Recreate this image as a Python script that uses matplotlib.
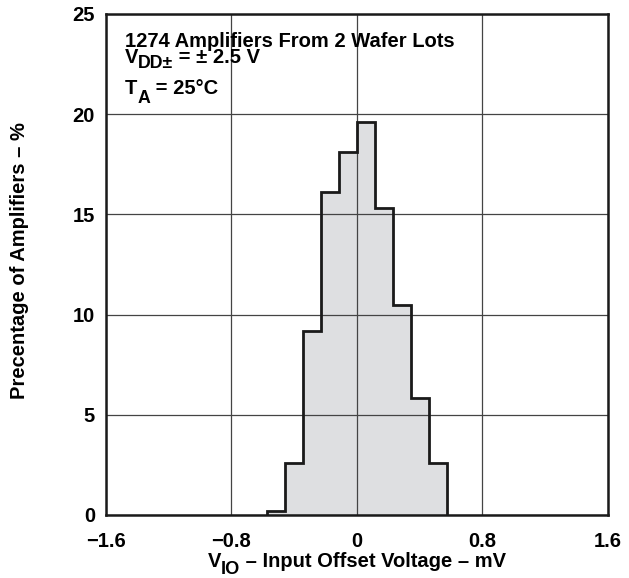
import matplotlib
matplotlib.use("Agg")
import matplotlib.pyplot as plt
from matplotlib.transforms import offset_copy
import numpy as np

plt.rcParams['font.family'] = ['Liberation Sans', 'DejaVu Sans']
plt.rcParams['font.weight'] = 'bold'

# histogram (bin edges in mV, heights in %)
bin_edges = [-0.575, -0.46, -0.345, -0.23, -0.115, 0.0, 0.115, 0.23, 0.345, 0.46, 0.575]
pct = [0.2, 2.6, 9.2, 16.1, 18.1, 19.6, 15.3, 10.5, 5.85, 2.6]

xticks = [-1.6, -0.8, 0, 0.8, 1.6]
xticklabels = ['\u22121.6', '\u22120.8', '0', '0.8', '1.6']
yticks = [0, 5, 10, 15, 20, 25]

FS = 14.5

fig = plt.figure(figsize=(6.29, 5.78), dpi=100)
ax = fig.add_axes([0.1685, 0.109, 0.798, 0.8668])

ax.stairs(pct, bin_edges, fill=True, color='#dedfe1', lw=0, zorder=1)
ax.stairs(pct, bin_edges, baseline=0, color='#1a1a1a', lw=2.0, zorder=3)

ax.set_xlim(-1.6, 1.6)
ax.set_ylim(0, 25)
ax.set_xticks(xticks)
ax.set_xticklabels(xticklabels)
ax.set_yticks(yticks)
ax.tick_params(length=0, labelsize=FS)
ax.tick_params(axis='x', pad=12)
ax.tick_params(axis='y', pad=8)
ax.grid(True, color='#444444', lw=0.9)
ax.set_axisbelow(False)
for sp in ax.spines.values():
    sp.set_linewidth(1.8)
    sp.set_color('#1a1a1a')
    sp.set_zorder(4)

fig.text(20 / 629, 1 - 261 / 578, 'Precentage of Amplifiers \u2013 %', rotation=90,
         ha='center', va='center', fontsize=FS, fontweight='bold')


def chain(pieces, x, y, trans, center=False):
    # pieces: (text, size, dy in px); laid out left to right on one baseline
    rend = fig.canvas.get_renderer()
    arts = []
    for s, size, dy in pieces:
        t = fig.text(0, 0, s, fontsize=size, fontweight='bold', va='baseline',
                     ha='left', transform=trans)
        arts.append((t, dy))
    widths = [t.get_window_extent(rend).width for t, _ in arts]
    x0 = -sum(widths) / 2 if center else 0
    for (t, dy), w in zip(arts, widths):
        t.set_position((x, y))
        t.set_transform(offset_copy(trans, fig=fig, x=x0, y=-dy, units='dots'))
        x0 += w


fig.canvas.draw()
tx = (125 - 106) / 502
chain([('1274 Amplifiers From 2 Wafer Lots', FS, 0)], tx, (515 - 47) / 501, ax.transAxes)
chain([('V', FS, 0), ('DD\u00b1', FS * 0.88, 5), (' = \u00b1 2.5 V', FS, 0)],
      tx, (515 - 63) / 501, ax.transAxes)
chain([('T', FS, 0), ('A', FS * 0.88, 9), (' = 25\u00b0C', FS, 0)],
      tx, (515 - 94) / 501, ax.transAxes)

chain([('V', FS, 0), ('IO', FS * 0.9, 7), (' \u2013 Input Offset Voltage \u2013 mV', FS, 0)],
      357 / 629, 1 - 567 / 578, fig.transFigure, center=True)

fig.savefig('out.png', dpi=100)
